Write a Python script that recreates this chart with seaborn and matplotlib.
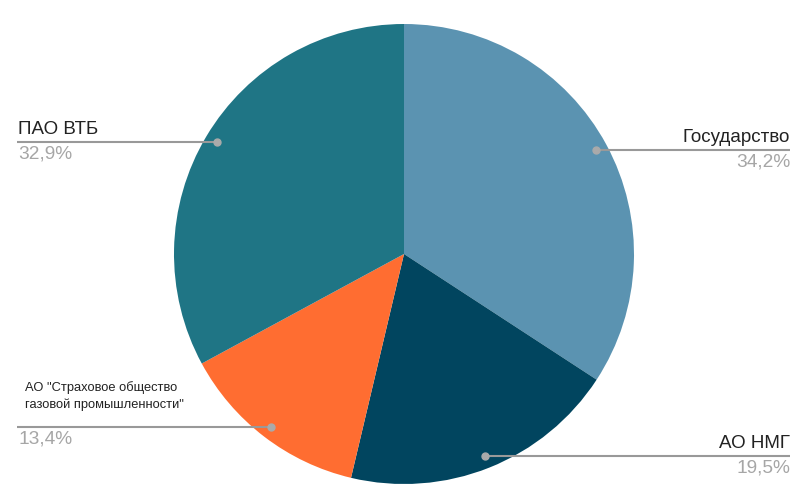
import numpy as np
import matplotlib
matplotlib.use("Agg")
import matplotlib.pyplot as plt
import seaborn as sns

sns.set_theme(style="white")
plt.rcParams['font.family'] = ['Liberation Sans', 'DejaVu Sans']

labels = ["Государство", "АО НМГ", "АО \"Страховое общество\nгазовой промышленности\"", "ПАО ВТБ"]
values = [34.2, 19.5, 13.4, 32.9]
pct_labels = ["34,2%", "19,5%", "13,4%", "32,9%"]
colors = ["#5b93b1", "#01455f", "#ff6d31", "#1f7585"]

W, H = 808, 487
fig = plt.figure(figsize=(W / 100, H / 100), dpi=100)
ax = fig.add_axes([0, 0, 1, 1])

cx, cy, R = 404, H - 254, 230
wedges, _ = ax.pie(values, colors=colors, startangle=90, counterclock=False,
                   center=(cx, cy), radius=R, frame=True,
                   wedgeprops=dict(linewidth=0))
ax.set_xlim(0, W)
ax.set_ylim(0, H)
ax.axis("off")

gray = "#999999"
for i, w in enumerate(wedges):
    ang = np.deg2rad((w.theta1 + w.theta2) / 2)
    px = cx + 0.948 * R * np.cos(ang)
    py = cy + 0.948 * R * np.sin(ang)
    right = np.cos(ang) > 0
    x_end = 790 if right else 17
    ax.plot([px, x_end], [py, py], color=gray, lw=1.5, solid_capstyle="butt", zorder=3)
    ax.plot([px], [py], "o", color="#aaaaaa", ms=5, zorder=4)
    ha = "right" if right else "left"
    small = "\n" in labels[i]
    if small:
        ax.text(25, py + 16, labels[i], ha="left", va="bottom",
                fontsize=9.3, color="#222222", linespacing=1.45)
    else:
        ax.text(x_end + (0 if right else 1), py + 4, labels[i], ha=ha, va="bottom",
                fontsize=13.5, color="#222222")
    ax.text(x_end + (0 if right else 1), py - 3, pct_labels[i], ha=ha, va="top",
            fontsize=13.8, color="#a6a6a6")

fig.savefig("out.png", dpi=100)
